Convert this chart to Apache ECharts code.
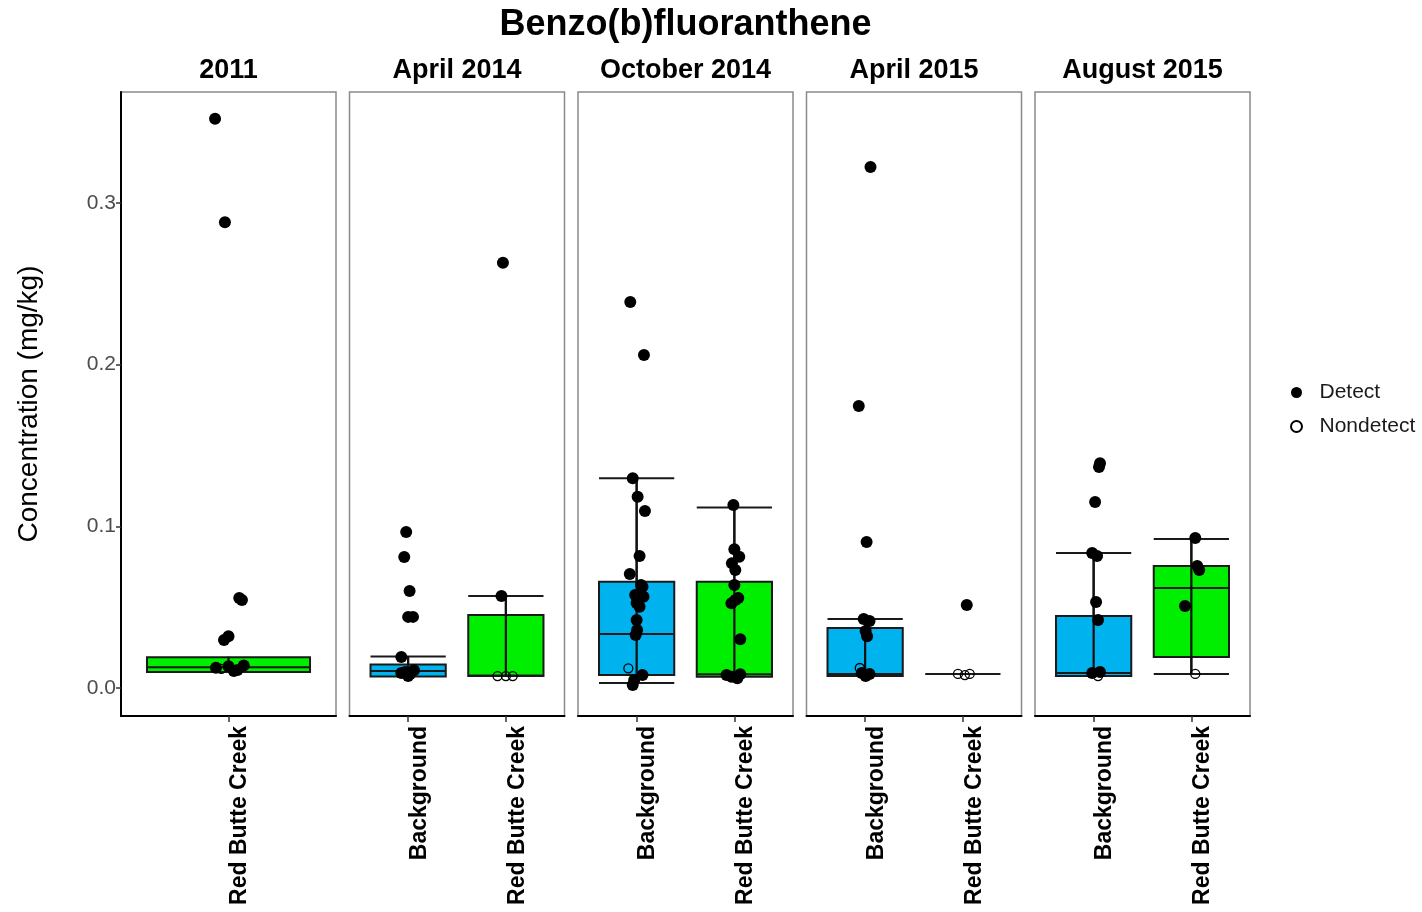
<!DOCTYPE html>
<html>
<head>
<meta charset="utf-8">
<title>Benzo(b)fluoranthene</title>
<script src="https://cdn.jsdelivr.net/npm/echarts@6/dist/echarts.min.js"></script>
<style>
  html, body { margin: 0; padding: 0; background: #fff; }
  #chart { width: 1422px; height: 912px; }
</style>
</head>
<body>
<div id="chart"></div>
<script>
// facets and the site groups inside each one
const facets = ['2011', 'April 2014', 'October 2014', 'April 2015', 'August 2015'];
const facetGroups = [
    ['Red Butte Creek'],
    ['Background', 'Red Butte Creek'],
    ['Background', 'Red Butte Creek'],
    ['Background', 'Red Butte Creek'],
    ['Background', 'Red Butte Creek'],
];

// box stats per group: [lower whisker, Q1, median, Q3, upper whisker]
const box2011 = [[0.0099, 0.0099, 0.0128, 0.0190, 0.0190]];
const boxApr2014 = [[0.0072, 0.0072, 0.0105, 0.0145, 0.0195], [0.0074, 0.0074, 0.0078, 0.0451, 0.0569]];
const boxOct2014 = [[0.0031, 0.0080, 0.0334, 0.0657, 0.1297], [0.0070, 0.0070, 0.0085, 0.0657, 0.1117]];
const boxApr2015 = [[0.0074, 0.0074, 0.0087, 0.0371, 0.0427], [0.0087, 0.0087, 0.0087, 0.0087, 0.0087]];
const boxAug2015 = [[0.0074, 0.0074, 0.0093, 0.0445, 0.0835], [0.0087, 0.0192, 0.0618, 0.0754, 0.0921]];

// jittered samples: [group position (1 = first group), concentration]
const detect2011 = [[0.925, 0.352], [0.98, 0.288], [1.06, 0.0557], [1.075, 0.0545], [1.0, 0.032], [0.975, 0.0297],
    [0.93, 0.0125], [1.0, 0.0135], [1.05, 0.0112], [1.085, 0.014], [1.03, 0.0105]];
const nondetect2011 = [[0.96, 0.0118]];

const detectApr2014 = [[0.98, 0.0965], [0.96, 0.081], [1.015, 0.060], [1.0, 0.044], [1.05, 0.044], [0.93, 0.0192],
    [0.97, 0.0099], [1.02, 0.0087], [1.06, 0.011], [0.93, 0.0093], [1.0, 0.0075],
    [1.97, 0.263], [1.955, 0.0569]];
const nondetectApr2014 = [[1.915, 0.0074], [2.0, 0.0074], [2.07, 0.0074]];

const detectOct2014 = [[0.935, 0.2387], [1.075, 0.206], [0.96, 0.1297], [1.01, 0.1183], [1.085, 0.1095], [1.03, 0.0816],
    [0.93, 0.0705], [1.045, 0.0637], [1.06, 0.0627], [0.985, 0.0575], [1.07, 0.0565], [1.0, 0.0526], [1.03, 0.0503],
    [1.0, 0.042], [1.005, 0.0359], [0.99, 0.0328], [1.06, 0.008], [0.975, 0.005], [0.96, 0.0019],
    [1.99, 0.1132], [2.0, 0.0858], [2.05, 0.0812], [1.975, 0.0771], [2.01, 0.073], [2.0, 0.0637], [2.01, 0.0544],
    [1.97, 0.0524], [2.04, 0.0557], [2.06, 0.0301], [1.92, 0.008], [1.97, 0.007], [2.03, 0.006], [2.06, 0.0085]];
const nondetectOct2014 = [[0.915, 0.0122]];

const detectApr2015 = [[1.055, 0.3222], [0.935, 0.1744], [1.015, 0.0903], [0.985, 0.0427], [1.045, 0.0414],
    [1.005, 0.0352], [1.02, 0.032], [0.965, 0.0093], [1.045, 0.0087], [1.005, 0.0074],
    [2.04, 0.0513]];
const nondetectApr2015 = [[0.945, 0.0124], [1.95, 0.0087], [2.02, 0.008], [2.07, 0.0087]];

const detectAug2015 = [[1.065, 0.139], [1.055, 0.1367], [1.015, 0.115], [0.985, 0.0835], [1.035, 0.0816],
    [1.025, 0.0532], [1.045, 0.042], [0.985, 0.0093], [1.065, 0.0099],
    [2.04, 0.0928], [2.06, 0.0754], [2.08, 0.073], [1.935, 0.0507]];
const nondetectAug2015 = [[1.045, 0.0074], [2.04, 0.0087]];

const yTicks = [0, 0.1, 0.2, 0.3];

const boxData = [box2011, boxApr2014, boxOct2014, boxApr2015, boxAug2015];
const detectData = [detect2011, detectApr2014, detectOct2014, detectApr2015, detectAug2015];
const nondetectData = [nondetect2011, nondetectApr2014, nondetectOct2014, nondetectApr2015, nondetectAug2015];

// layout
const FONT = '"Liberation Sans", Arial, Helvetica, sans-serif';
const PANEL_LEFT = 121, PANEL_STEP = 228.5, PANEL_W = 215, PANEL_TOP = 92, PANEL_H = 624;
const Y_MIN = -0.0173, Y_MAX = 0.3686;
const BLUE = '#00b2ee', GREEN = '#00ee00';

const chart = echarts.init(document.getElementById('chart'));

const grids = [], xAxes = [], yAxes = [], series = [];
const graphics = [{
    type: 'text', x: PANEL_LEFT + (4 * PANEL_STEP + PANEL_W) / 2, y: 25,
    style: { text: 'Benzo(b)fluoranthene', font: 'bold 36px ' + FONT, fill: '#000',
        textAlign: 'center', textVerticalAlign: 'middle', align: 'center', verticalAlign: 'middle' }
}];

facets.forEach((facet, i) => {
    const left = PANEL_LEFT + i * PANEL_STEP;
    const groups = facetGroups[i];
    const n = groups.length;
    // discrete scale padded by 0.6 of a group on each side
    const unit = PANEL_W / (n + 0.2);
    const inset = 0.1 * unit;

    graphics.push({
        type: 'text', x: left + PANEL_W / 2, y: 71,
        style: { text: facet, font: 'bold 27px ' + FONT, fill: '#000',
            textAlign: 'center', textVerticalAlign: 'middle', align: 'center', verticalAlign: 'middle' }
    });

    // outer panel: border and axis lines
    const outer = grids.length;
    grids.push({ left: left, top: PANEL_TOP, width: PANEL_W, height: PANEL_H,
        show: true, borderColor: '#8a8a8a', borderWidth: 1.5, backgroundColor: '#fff' });
    xAxes.push({
        gridIndex: outer, type: 'value', min: 0, max: 1, position: 'bottom',
        axisLine: { show: true, onZero: false, lineStyle: { color: '#000', width: 2 } },
        axisTick: { show: false }, axisLabel: { show: false }, splitLine: { show: false }
    });
    yAxes.push({
        gridIndex: outer, type: 'value', min: Y_MIN, max: Y_MAX, show: i === 0,
        name: 'Concentration (mg/kg)', nameLocation: 'middle', nameGap: 78,
        nameTextStyle: { fontFamily: FONT, fontSize: 28, color: '#000' },
        axisLine: { show: true, onZero: false, lineStyle: { color: '#000', width: 2 } },
        axisTick: { show: true, length: 5, customValues: yTicks, lineStyle: { color: '#333', width: 1.5 } },
        axisLabel: { customValues: yTicks, formatter: v => v.toFixed(1), fontFamily: FONT, fontSize: 21,
            color: '#4d4d4d', margin: 5 },
        splitLine: { show: false }
    });

    // inner panel: groups sit where the padded discrete scale puts them
    const inner = grids.length;
    grids.push({ left: left + inset, top: PANEL_TOP, width: n * unit, height: PANEL_H });
    const catIdx = xAxes.length;
    xAxes.push({
        gridIndex: inner, type: 'category', data: groups, position: 'bottom',
        axisLine: { show: false, onZero: false },
        axisTick: { show: true, alignWithLabel: true, length: 6, lineStyle: { color: '#333', width: 1.5 } },
        axisLabel: { interval: 0, rotate: 90, margin: 10, verticalAlign: 'top',
            fontFamily: FONT, fontWeight: 'bold', fontSize: 23, color: '#000' },
        splitLine: { show: false }
    });
    const barIdx = xAxes.length;
    xAxes.push({ gridIndex: inner, type: 'category', data: groups, show: false, axisLine: { onZero: false } });
    const jitterIdx = xAxes.length;
    xAxes.push({ gridIndex: inner, type: 'value', min: 0.5, max: n + 0.5, show: false, splitLine: { show: false } });
    const yIdx = yAxes.length;
    yAxes.push({ gridIndex: inner, type: 'value', min: Y_MIN, max: Y_MAX, show: false, splitLine: { show: false } });

    const bw = n === 1 ? '91%' : '77%';
    series.push({
        type: 'boxplot', xAxisIndex: catIdx, yAxisIndex: yIdx, silent: true,
        boxWidth: [bw, bw],
        itemStyle: { borderColor: '#1a1a1a', borderWidth: 2 },
        data: boxData[i].map((s, k) => ({
            value: s, itemStyle: { color: groups[k] === 'Background' ? BLUE : GREEN }
        }))
    });
    // error-bar stem running through the box
    series.push({
        type: 'boxplot', xAxisIndex: barIdx, yAxisIndex: yIdx, silent: true,
        boxWidth: [1, 1],
        itemStyle: { color: '#111', borderColor: '#111', borderWidth: 1.2 },
        data: boxData[i].map(s => [s[0], s[0], s[0], s[4], s[4]])
    });
    series.push({
        name: 'Detect', type: 'scatter', xAxisIndex: jitterIdx, yAxisIndex: yIdx, silent: true,
        symbol: 'circle', symbolSize: 12, itemStyle: { color: '#000', opacity: 1 },
        data: detectData[i]
    });
    series.push({
        name: 'Nondetect', type: 'scatter', xAxisIndex: jitterIdx, yAxisIndex: yIdx, silent: true,
        symbol: 'circle', symbolSize: 9,
        itemStyle: { color: 'rgba(0,0,0,0)', borderColor: '#000', borderWidth: 1.3, opacity: 1 },
        data: nondetectData[i]
    });
});

chart.setOption({
    animation: false,
    backgroundColor: '#fff',
    textStyle: { fontFamily: FONT },
    graphic: graphics,
    legend: {
        data: ['Detect', 'Nondetect'], orient: 'vertical', left: 1285, top: 377,
        itemWidth: 36, itemHeight: 11, itemGap: 13, icon: 'circle',
        textStyle: { fontFamily: FONT, fontSize: 21, color: '#1a1a1a' }
    },
    grid: grids,
    xAxis: xAxes,
    yAxis: yAxes,
    series: series
});
</script>
</body>
</html>
